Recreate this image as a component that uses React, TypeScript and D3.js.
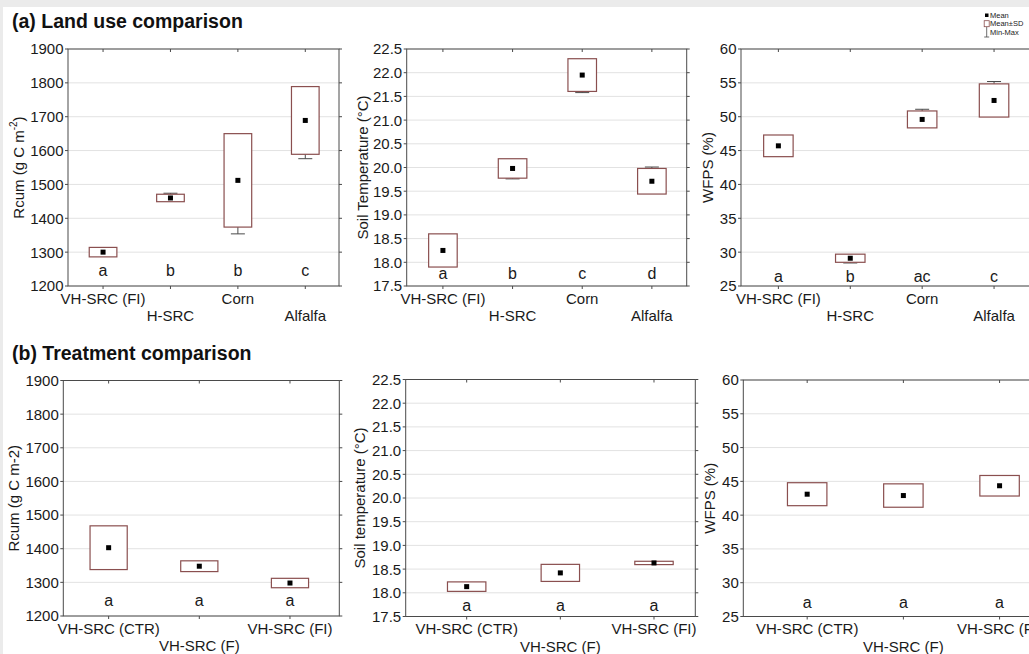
import React, { useEffect } from "react";
import * as d3 from "d3";

// ---------- DATA ----------
const landCategories = ["VH-SRC (FI)", "H-SRC", "Corn", "Alfalfa"];
const treatCategories = ["VH-SRC (CTR)", "VH-SRC (F)", "VH-SRC (FI)"];

const rcumTicks = [1200, 1300, 1400, 1500, 1600, 1700, 1800, 1900];
const soilTicks = [17.5, 18.0, 18.5, 19.0, 19.5, 20.0, 20.5, 21.0, 21.5, 22.0, 22.5];
const wfpsTicks = [25, 30, 35, 40, 45, 50, 55, 60];

// (a) Land use comparison
const landRcumMean = [1300, 1460, 1512, 1689];
const landRcumSD = [14, 11, 138, 100];
const landRcumMin: (number | null)[] = [null, null, 1354, 1576];
const landRcumMax: (number | null)[] = [null, 1474, null, null];
const landRcumLetters = ["a", "b", "b", "c"];

const landSoilMean = [18.25, 19.98, 21.95, 19.71];
const landSoilSD = [0.35, 0.205, 0.345, 0.27];
const landSoilMin: (number | null)[] = [null, 19.76, 21.58, null];
const landSoilMax: (number | null)[] = [null, null, null, 20.01];
const landSoilLetters = ["a", "b", "c", "d"];

const landWfpsMean = [45.7, 29.1, 49.6, 52.4];
const landWfpsSD = [1.6, 0.6, 1.25, 2.45];
const landWfpsMin: (number | null)[] = [null, 28.4, null, null];
const landWfpsMax: (number | null)[] = [null, null, 51.1, 55.2];
const landWfpsLetters = ["a", "b", "ac", "c"];

// (b) Treatment comparison
const treatRcumMean = [1403, 1348, 1298];
const treatRcumSD = [65, 16, 14];
const treatSoilMean = [18.13, 18.42, 18.63];
const treatSoilSD = [0.1, 0.18, 0.035];
const treatWfpsMean = [43.1, 42.9, 44.35];
const treatWfpsSD = [1.7, 1.73, 1.52];
const treatLetters = ["a", "a", "a"];
const noWhisker: (number | null)[] = [null, null, null];

// ---------- STYLE ----------
const FONT = "'Liberation Sans', Arial, Helvetica, sans-serif";
const FRAME = "#4a4a4a";
const GRID = "#e2e2e2";
const BOX = "#8a4f4f";
const TEXT = "#1a1a1a";

type Panel = {
  left: number; right: number; top: number; bottom: number;
  xLo: number; xHi: number;
  cats: string[]; mean: number[]; sd: number[];
  min: (number | null)[]; max: (number | null)[];
  letters: string[];
  yDomain: [number, number]; ticks: number[]; fmt: (v: number) => string;
  title: React.ReactNode; titleX: number; letterOff: number;
};

const fmtInt = d3.format("d");
const fmt1 = d3.format(".1f");

const rcumTitleSup = (
  <>
    Rcum (g C m<tspan baselineShift="super" fontSize="10">-2</tspan>)
  </>
);

const panels: Panel[] = [
  { left: 68, right: 339, top: 49, bottom: 286, xLo: -0.52, xHi: 3.5, cats: landCategories,
    mean: landRcumMean, sd: landRcumSD, min: landRcumMin, max: landRcumMax, letters: landRcumLetters,
    yDomain: [1200, 1900], ticks: rcumTicks, fmt: fmtInt, title: rcumTitleSup, titleX: 18.5, letterOff: 10 },
  { left: 406.7, right: 686.7, top: 49, bottom: 286, xLo: -0.52, xHi: 3.5, cats: landCategories,
    mean: landSoilMean, sd: landSoilSD, min: landSoilMin, max: landSoilMax, letters: landSoilLetters,
    yDomain: [17.5, 22.5], ticks: soilTicks, fmt: fmt1, title: "Soil Temperature (°C)", titleX: 362.7, letterOff: 7.5 },
  { left: 741, right: 1030, top: 49, bottom: 286, xLo: -0.52, xHi: 3.5, cats: landCategories,
    mean: landWfpsMean, sd: landWfpsSD, min: landWfpsMin, max: landWfpsMax, letters: landWfpsLetters,
    yDomain: [25, 60], ticks: wfpsTicks, fmt: fmtInt, title: "WFPS (%)", titleX: 707, letterOff: 4 },
  { left: 63.3, right: 339.3, top: 380.5, bottom: 616, xLo: -0.5, xHi: 2.544, cats: treatCategories,
    mean: treatRcumMean, sd: treatRcumSD, min: noWhisker, max: noWhisker, letters: treatLetters,
    yDomain: [1200, 1900], ticks: rcumTicks, fmt: fmtInt, title: "Rcum (g C m-2)", titleX: 13.7, letterOff: 10 },
  { left: 405.7, right: 695.3, top: 379.5, bottom: 616.5, xLo: -0.651, xHi: 2.441, cats: treatCategories,
    mean: treatSoilMean, sd: treatSoilSD, min: noWhisker, max: noWhisker, letters: treatLetters,
    yDomain: [17.5, 22.5], ticks: soilTicks, fmt: fmt1, title: "Soil temperature (°C)", titleX: 359, letterOff: 6 },
  { left: 743.3, right: 1042, top: 380, bottom: 616.5, xLo: -0.664, xHi: 2.441, cats: treatCategories,
    mean: treatWfpsMean, sd: treatWfpsSD, min: noWhisker, max: noWhisker, letters: treatLetters,
    yDomain: [25, 60], ticks: wfpsTicks, fmt: fmtInt, title: "WFPS (%)", titleX: 709, letterOff: 8.5 },
];

function PanelView({ p }: { p: Panel }) {
  const x = d3.scaleLinear().domain([p.xLo, p.xHi]).range([p.left, p.right]);
  const y = d3.scaleLinear().domain(p.yDomain).range([p.bottom, p.top]);
  const step = x(1) - x(0);
  const bw = step * 0.41;
  const capW = 14;
  const ms = 5;
  const idx = d3.range(p.cats.length);
  return (
    <g>
      {/* grid */}
      {p.ticks.map((t) => (
        <line key={"g" + t} x1={p.left} x2={p.right} y1={y(t)} y2={y(t)} stroke={GRID} strokeWidth={1} />
      ))}
      {/* y ticks + labels */}
      {p.ticks.map((t) => (
        <g key={"t" + t}>
          <line x1={p.left - 3} x2={p.left} y1={y(t)} y2={y(t)} stroke={FRAME} />
          <line x1={p.right} x2={p.right + 3} y1={y(t)} y2={y(t)} stroke={FRAME} />
          <text x={p.left - 4.5} y={y(t)} dy="0.36em" textAnchor="end" fontSize={15} fill={TEXT}>
            {p.fmt(t)}
          </text>
        </g>
      ))}
      {/* x ticks + labels */}
      {idx.map((i) => (
        <g key={"c" + i}>
          <line x1={x(i)} x2={x(i)} y1={p.top} y2={p.top + 3} stroke={FRAME} />
          <line x1={x(i)} x2={x(i)} y1={p.bottom} y2={p.bottom + 3} stroke={FRAME} />
          <text x={x(i)} y={p.bottom + (i % 2 === 0 ? 17.5 : 35)} textAnchor="middle" fontSize={15} fill={TEXT}>
            {p.cats[i]}
          </text>
        </g>
      ))}
      {/* frame */}
      <rect x={p.left} y={p.top} width={p.right - p.left} height={p.bottom - p.top} fill="none" stroke={FRAME} strokeWidth={1} />
      {/* whiskers */}
      {idx.map((i) => {
        const hi = p.mean[i] + p.sd[i];
        const lo = p.mean[i] - p.sd[i];
        const parts = [];
        const mx = p.max[i];
        const mn = p.min[i];
        if (mx !== null && mx > hi) {
          parts.push(
            <g key="mx">
              <line x1={x(i)} x2={x(i)} y1={y(hi)} y2={y(mx)} stroke={FRAME} />
              <line x1={x(i) - capW / 2} x2={x(i) + capW / 2} y1={y(mx)} y2={y(mx)} stroke={FRAME} />
            </g>
          );
        }
        if (mn !== null && mn < lo) {
          parts.push(
            <g key="mn">
              <line x1={x(i)} x2={x(i)} y1={y(lo)} y2={y(mn)} stroke={FRAME} />
              <line x1={x(i) - capW / 2} x2={x(i) + capW / 2} y1={y(mn)} y2={y(mn)} stroke={FRAME} />
            </g>
          );
        }
        return <g key={"w" + i}>{parts}</g>;
      })}
      {/* boxes */}
      {idx.map((i) => (
        <rect key={"b" + i} x={x(i) - bw / 2} y={y(p.mean[i] + p.sd[i])} width={bw}
          height={y(p.mean[i] - p.sd[i]) - y(p.mean[i] + p.sd[i])} fill="white" stroke={BOX} strokeWidth={1.2} />
      ))}
      {/* means */}
      {idx.map((i) => (
        <rect key={"m" + i} x={x(i) - ms / 2} y={y(p.mean[i]) - ms / 2} width={ms} height={ms} fill="#000" />
      ))}
      {/* letters */}
      {idx.map((i) => (
        <text key={"l" + i} x={x(i)} y={p.bottom - p.letterOff} textAnchor="middle" fontSize={16} fill={TEXT}>
          {p.letters[i]}
        </text>
      ))}
      {/* y title */}
      <text transform={`translate(${p.titleX},${(p.top + p.bottom) / 2}) rotate(-90)`} textAnchor="middle"
        dominantBaseline="central" fontSize={15} fill={TEXT}>
        {p.title}
      </text>
    </g>
  );
}

export default function App() {
  useEffect(() => {
    document.body.style.margin = "0";
  }, []);
  return (
    <svg width={1029} height={654} style={{ position: "absolute", left: 0, top: 0, display: "block" }}
      fontFamily={FONT}>
      <rect x={0} y={0} width={1029} height={654} fill="#fff" />
      <rect x={0} y={0} width={1029} height={7} fill="#ebebeb" />
      <rect x={0} y={0} width={3} height={654} fill="#ebebeb" />
      <text x={12} y={27.5} fontSize={19.5} fontWeight="bold" fill="#111">(a) Land use comparison</text>
      <text x={12} y={360} fontSize={19.5} fontWeight="bold" fill="#111">(b) Treatment comparison</text>
      {panels.map((p, k) => (
        <PanelView key={k} p={p} />
      ))}
      {/* legend */}
      <g fontSize={7.5} fill={TEXT}>
        <rect x={985} y={13.5} width={3.5} height={3.5} fill="#000" />
        <text x={990} y={15.3} dy="0.35em">Mean</text>
        <line x1={986.7} x2={986.7} y1={26.7} y2={37} stroke={FRAME} strokeWidth={0.8} />
        <line x1={984.2} x2={989.2} y1={37} y2={37} stroke={FRAME} strokeWidth={0.8} />
        <rect x={984.2} y={20.7} width={5} height={6} fill="#fff" stroke={BOX} strokeWidth={0.8} />
        <text x={990} y={23.5} dy="0.35em">Mean±SD</text>
        <text x={990} y={32.5} dy="0.35em">Min-Max</text>
      </g>
    </svg>
  );
}
